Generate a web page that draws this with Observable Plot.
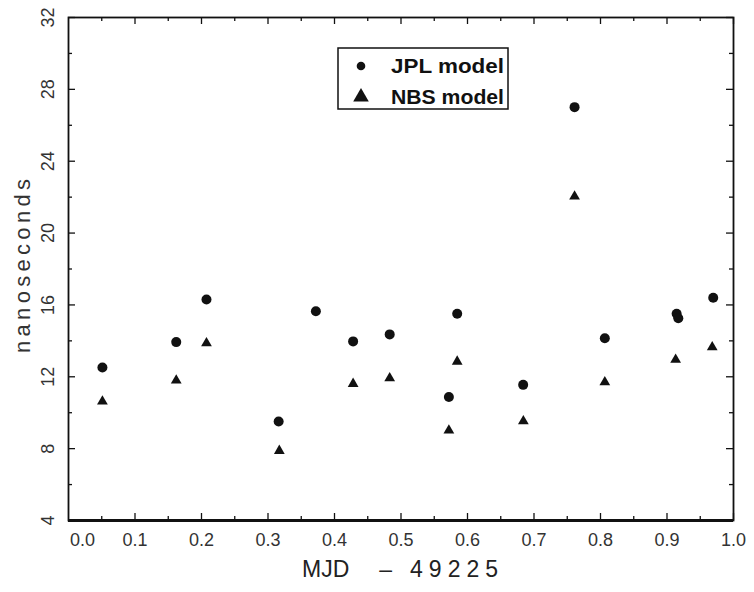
<!DOCTYPE html>
<html>
<head>
<meta charset="utf-8">
<script src="https://cdn.jsdelivr.net/npm/d3@7"></script>
<script src="https://cdn.jsdelivr.net/npm/@observablehq/plot@0.6"></script>
<style>
  html, body { margin: 0; padding: 0; background: #fff; }
  #wrap { position: relative; width: 754px; height: 592px; }
  #legend { position: absolute; left: 337px; top: 47px; }
</style>
</head>
<body>
<div id="wrap"></div>
<script>
// JPL model (circles)
const jplX = [0.051, 0.162, 0.2075, 0.316, 0.372, 0.428, 0.483, 0.5845, 0.572, 0.6837, 0.761, 0.8065, 0.9145, 0.917, 0.9695];
const jplY = [12.52, 13.93, 16.30, 9.51, 15.65, 13.97, 14.36, 15.51, 10.87, 11.55, 27.01, 14.15, 15.51, 15.26, 16.40];
// NBS model (triangles)
const nbsX = [0.051, 0.162, 0.2075, 0.317, 0.428, 0.483, 0.5845, 0.572, 0.684, 0.761, 0.8065, 0.913, 0.968];
const nbsY = [10.63, 11.80, 13.87, 7.88, 11.61, 11.92, 12.85, 9.01, 9.53, 22.04, 11.70, 12.95, 13.65];

const xDomain = [0, 1];
const yDomain = [4, 32];
const xTickLabels = [0.1, 0.2, 0.3, 0.4, 0.5, 0.6, 0.7, 0.8, 0.9, 1.0];
const xMinorTicks = [0.05, 0.15, 0.25, 0.35, 0.45, 0.55, 0.65, 0.75, 0.85, 0.95];
const yTickLabels = [4, 8, 12, 16, 20, 24, 28, 32];
const yMinorTicks = [6, 10, 14, 18, 22, 26, 30];
const seriesNames = ["JPL model", "NBS model"];
const xTitleParts = ["MJD", "\u2013", "49225"];
const xTitle = xTitleParts.join(" ");
const yTitle = "nanoseconds";

const jpl = jplX.map((x, i) => ({x, y: jplY[i]}));
const nbs = nbsX.map((x, i) => ({x, y: nbsY[i]}));

const W = 754, H = 592, mL = 68, mR = 21, mT = 17, mB = 72;
const plotW = W - mL - mR, plotH = H - mT - mB;
const ink = "#111";
const fmt1 = d => d.toFixed(1);
const major = 7, minor = 4;

const chart = Plot.plot({
  width: W,
  height: H,
  marginLeft: mL,
  marginRight: mR,
  marginTop: mT,
  marginBottom: mB,
  style: {fontFamily: "Liberation Sans, Arial, sans-serif", fontSize: "18px", color: "#222", background: "#fff"},
  x: {domain: xDomain},
  y: {domain: yDomain},
  marks: [
    Plot.frame({stroke: ink, strokeWidth: 1.8}),
    Plot.ruleY([yDomain[0]], {stroke: ink, strokeWidth: 3}),
    // inward ticks: left / right
    Plot.tickY(yTickLabels, {y: d => d, insetRight: plotW - major, stroke: ink, strokeWidth: 1.3}),
    Plot.tickY(yMinorTicks, {y: d => d, insetRight: plotW - minor, stroke: ink, strokeWidth: 1.3}),
    Plot.tickY(yTickLabels, {y: d => d, insetLeft: plotW - major, stroke: ink, strokeWidth: 1.3}),
    Plot.tickY(yMinorTicks, {y: d => d, insetLeft: plotW - minor, stroke: ink, strokeWidth: 1.3}),
    // inward ticks: bottom / top
    Plot.tickX(xTickLabels, {x: d => d, insetTop: plotH - major, stroke: ink, strokeWidth: 1.3}),
    Plot.tickX(xMinorTicks, {x: d => d, insetTop: plotH - minor, stroke: ink, strokeWidth: 1.3}),
    Plot.tickX(xTickLabels, {x: d => d, insetBottom: plotH - major, stroke: ink, strokeWidth: 1.3}),
    Plot.tickX(xMinorTicks, {x: d => d, insetBottom: plotH - minor, stroke: ink, strokeWidth: 1.3}),
    // tick labels
    Plot.axisX({ticks: xTickLabels, tickSize: 0, tickPadding: 13, tickFormat: fmt1, label: null, fill: "#333"}),
    Plot.axisX({ticks: [0], tickSize: 0, tickPadding: 13, tickFormat: fmt1, dx: 14, label: null, fill: "#333"}),
    Plot.axisY({ticks: yTickLabels, tickSize: 0, tickPadding: 20, tickFormat: d => String(d), rotate: -90, textAnchor: "middle", label: null, fill: "#333"}),
    // axis titles
    Plot.text([xTitle], {frameAnchor: "bottom", textAnchor: "middle", dx: 2, dy: 56, text: d => d, fontSize: 23, fill: "#222"}),
    Plot.text([yTitle], {frameAnchor: "left", textAnchor: "middle", dx: -46, dy: -3, rotate: -90, text: d => d, fontSize: 22, fill: "#333"}),
    // data
    Plot.dot(jpl, {x: "x", y: "y", r: 5, fill: ink, stroke: "none", symbol: "circle"}),
    Plot.dot(nbs, {x: "x", y: "y", r: 4, fill: ink, stroke: "none", symbol: "triangle"})
  ]
});

document.getElementById("wrap").appendChild(chart);

// match the lettering widths of the original axis titles
d3.select(chart).selectAll("text").each(function() {
  if (this.textContent === yTitle) {
    this.setAttribute("textLength", 174);
    this.setAttribute("lengthAdjust", "spacing");
  } else if (this.textContent === xTitle) {
    const t = d3.select(this);
    t.text(null);
    t.append("tspan").text(xTitleParts[0]);
    t.append("tspan").attr("dx", 30).style("letter-spacing", "0px").text(xTitleParts[1]);
    t.append("tspan").attr("dx", 18).style("letter-spacing", "6px").text(xTitleParts[2]);
  }
});

// legend overlay
const lw = 170, lh = 61;
const leg = d3.select("#wrap").append("svg")
  .attr("id", "legend").attr("width", lw + 2).attr("height", lh + 2);
leg.append("rect").attr("x", 1).attr("y", 1).attr("width", lw).attr("height", lh)
  .attr("fill", "#fff").attr("stroke", ink).attr("stroke-width", 1.5);
const symbols = [d3.symbolCircle, d3.symbolTriangle];
const sizes = [58, 105];
seriesNames.forEach((name, i) => {
  const cy = 19 + i * 31;
  leg.append("path").attr("d", d3.symbol(symbols[i], sizes[i])())
    .attr("transform", `translate(24,${cy})`).attr("fill", ink);
  leg.append("text").attr("x", 54).attr("y", cy).attr("dy", "0.36em")
    .attr("font-family", "Liberation Sans, Arial, sans-serif").attr("font-size", 20)
    .attr("font-weight", "bold").attr("textLength", 113).attr("lengthAdjust", "spacingAndGlyphs")
    .attr("fill", ink).text(name);
});
</script>
</body>
</html>
